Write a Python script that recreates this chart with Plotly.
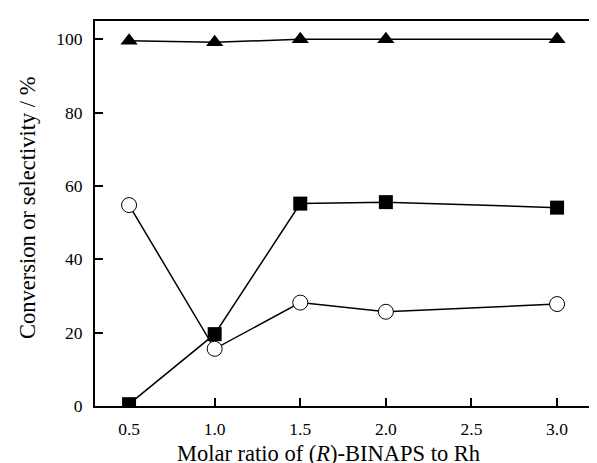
import plotly.graph_objects as go

ratio = [0.5, 1.0, 1.5, 2.0, 3.0]
conversion = [99.6, 99.2, 100.0, 100.0, 100.0]      # triangles
selectivity_sq = [0.5, 19.6, 55.2, 55.6, 54.1]      # filled squares
selectivity_ci = [54.8, 15.6, 28.2, 25.7, 27.8]     # open circles
x_ticks = [0.5, 1.0, 1.5, 2.0, 2.5, 3.0]
x_tick_text = ["0.5", "1.0", "1.5", "2.0", "2.5", "3.0"]
y_ticks = [0, 20, 40, 60, 80, 100]

FONT = "Liberation Serif"

fig = go.Figure()
fig.add_trace(go.Scatter(
    x=ratio, y=selectivity_sq, mode="lines+markers",
    line=dict(color="black", width=1.5),
    marker=dict(symbol="square", size=14, color="black"),
    showlegend=False))
fig.add_trace(go.Scatter(
    x=ratio, y=selectivity_ci, mode="lines+markers",
    line=dict(color="black", width=1.5),
    marker=dict(symbol="circle", size=15, color="white",
                line=dict(color="black", width=1)),
    showlegend=False))
fig.add_trace(go.Scatter(
    x=ratio, y=conversion, mode="lines+markers",
    line=dict(color="black", width=1.5),
    marker=dict(symbol="triangle-up", size=15, color="black"),
    showlegend=False))

fig.update_layout(
    width=597, height=463,
    margin=dict(l=87, r=0, t=13, b=65),
    paper_bgcolor="white", plot_bgcolor="white",
    font=dict(family=FONT, size=17.5, color="black"),
    xaxis=dict(range=[0.301, 3.28], tickvals=x_ticks, ticktext=x_tick_text,
               showline=True, linecolor="black", linewidth=2, mirror=True,
               ticks="inside", ticklen=8, tickwidth=1.5, tickcolor="black",
               showgrid=False, zeroline=False, ticklabelstandoff=6),
    yaxis=dict(range=[0, 105], tickvals=y_ticks,
               showline=True, linecolor="black", linewidth=2, mirror=False,
               ticks="inside", ticklen=8, tickwidth=1.5, tickcolor="black",
               showgrid=False, zeroline=False, ticklabelstandoff=7),
    annotations=[
        dict(text="Molar ratio of (<i>R</i>)-BINAPS to Rh", xref="paper", yref="paper",
             x=(320.5 - 87) / 510, y=0, yshift=-47, xanchor="center", yanchor="middle",
             showarrow=False, font=dict(family=FONT, size=22.5)),
        dict(text="Conversion or selectivity / %", xref="paper", yref="paper",
             x=0, xshift=-67.5, y=0.5, yshift=5, textangle=-90, xanchor="center",
             yanchor="middle", showarrow=False, font=dict(family=FONT, size=22.5)),
    ],
)

fig.write_html("out.html")
